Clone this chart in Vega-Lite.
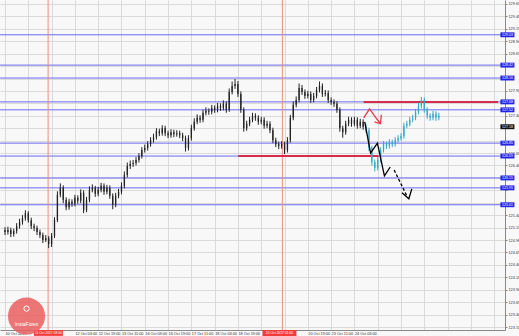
{
"$schema":"https://vega.github.io/schema/vega-lite/v6.json",
"width":505,"height":330,
"autosize":{"type":"none"},
"padding":{"left":0,"top":0,"right":14,"bottom":6},
"background":"#f8f8f8",
"config":{"view":{"stroke":null},"font":"Liberation Sans"},
"resolve":{"axis":{"x":"independent","y":"independent"}},
"layer":[
 {"data":{"values":[{"p":129.03},{"p":128.42},{"p":128.16},{"p":127.68},{"p":127.52},{"p":126.85},{"p":126.59},{"p":126.15},{"p":125.95},{"p":125.61}]},
  "mark":{"type":"rule","color":"#6a6af2","strokeWidth":1},
  "encoding":{"y":{"field":"p","type":"quantitative","scale":{"domain":[123.09,129.73],"nice":false,"zero":false},
  "axis":{"title":null,"orient":"right","values":[123.15,123.4,123.65,123.9,124.15,124.4,124.65,124.9,125.15,125.4,125.65,125.9,126.15,126.4,126.65,126.9,127.15,127.4,127.65,127.9,128.15,128.4,128.65,128.9,129.15,129.4,129.65],
   "labelExpr":"indexof([125.65,125.9,126.15,126.9,127.15,127.65,128.15,128.4], datum.value) >= 0 ? '' : format(datum.value, '.2f')",
   "labelFontSize":3.8,"labelColor":"#333","labelPadding":1,"tickSize":2,"tickColor":"#888","domainColor":"#888","labelOverlap":false,"labelFlush":false,
   "grid":true,"gridColor":"#dadada","zindex":0}}}},
 {"data":{"values":[{"i":29.6},{"i":190.5}]},
  "mark":{"type":"rule","color":"#f08a80","strokeWidth":1},
  "encoding":{"x":{"field":"i","type":"quantitative","scale":{"domain":[0,340],"nice":false,"zero":false},
  "axis":{"title":null,"orient":"bottom","values":[0,16,32,48,64,80,96,112,128,144,160,176,192,208,224,240,256,272,288,304,320,336],
   "labelExpr":"datum.value <= 240 ? ['10 Oct 2017','','','12 Oct 03:00','12 Oct 19:00','13 Oct 11:00','16 Oct 03:00','16 Oct 19:00','17 Oct 11:00','18 Oct 03:00','18 Oct 19:00','','','20 Oct 19:00','23 Oct 11:00','24 Oct 03:00'][round(datum.value/16)] : ''",
   "labelAlign":"left","labelBaseline":"top","labelPadding":1,"labelFontSize":3.8,"labelColor":"#333","tickSize":0,"labelOverlap":false,"labelFlush":false,"labelBound":false,
   "grid":true,"gridColor":"#dadada","domainColor":"#888","zindex":0}}}},
 {"data":{"values":[{"i":246.4,"i2":338.6,"p":127.68},{"i":160.2,"i2":256.5,"p":126.59}]},
  "mark":{"type":"rule","color":"#d42e4c","strokeWidth":2},
  "encoding":{"x":{"field":"i","type":"quantitative","axis":null},"x2":{"field":"i2"},"y":{"field":"p","type":"quantitative","axis":null}}},
 {"data":{"name":"bars"},
  "mark":{"type":"rule","strokeWidth":1},
  "encoding":{"x":{"field":"i","type":"quantitative","axis":null},"y":{"field":"l","type":"quantitative","axis":null},"y2":{"field":"h"},
   "color":{"field":"s","type":"nominal","scale":{"domain":["h","f"],"range":["#222222","#35a7c9"]},"legend":null}}},
 {"data":{"name":"bars"},
  "mark":{"type":"bar","size":1.3},
  "encoding":{"x":{"field":"i","type":"quantitative","axis":null},"y":{"field":"o","type":"quantitative","axis":null},"y2":{"field":"c"},
   "color":{"field":"s","type":"nominal","scale":{"domain":["h","f"],"range":["#222222","#35a7c9"]},"legend":null}}},
 {"data":{"values":[
   {"g":"a","ord":1,"i":247.1,"p":127.28},{"g":"a","ord":2,"i":251.1,"p":126.65},{"g":"a","ord":3,"i":255.8,"p":126.85},{"g":"a","ord":4,"i":260.6,"p":126.19},{"g":"a","ord":5,"i":264.6,"p":126.37},
   {"g":"b","ord":1,"i":272.7,"p":125.85},{"g":"b","ord":2,"i":277.4,"p":125.73},{"g":"b","ord":3,"i":279.4,"p":125.93}]},
  "mark":{"type":"line","color":"#000000","strokeWidth":1.3},
  "encoding":{"x":{"field":"i","type":"quantitative","axis":null},"y":{"field":"p","type":"quantitative","axis":null},"detail":{"field":"g"},"order":{"field":"ord"}}},
 {"data":{"values":[{"i":267.3,"p":126.31},{"i":276.0,"p":125.79}]},
  "mark":{"type":"line","color":"#000000","strokeWidth":1.3,"strokeDash":[3,2]},
  "encoding":{"x":{"field":"i","type":"quantitative","axis":null},"y":{"field":"p","type":"quantitative","axis":null}}},
 {"data":{"values":[
   {"g":"a","ord":1,"i":246.4,"p":127.36},{"g":"a","ord":2,"i":250.4,"p":127.54},{"g":"a","ord":3,"i":253.8,"p":127.40},{"g":"a","ord":4,"i":257.9,"p":127.24},
   {"g":"b","ord":1,"i":253.8,"p":127.28},{"g":"b","ord":2,"i":257.9,"p":127.24},{"g":"b","ord":3,"i":258.5,"p":127.42}]},
  "mark":{"type":"line","color":"#e23a48","strokeWidth":1.3},
  "encoding":{"x":{"field":"i","type":"quantitative","axis":null},"y":{"field":"p","type":"quantitative","axis":null},"detail":{"field":"g"},"order":{"field":"ord"}}},
 {"data":{"values":[{"p":129.03},{"p":128.42},{"p":128.16},{"p":127.68},{"p":127.52},{"p":126.85},{"p":126.59},{"p":126.15},{"p":125.95},{"p":125.61}]},
  "mark":{"type":"point","shape":"M-1,-0.35H1V0.35H-1Z","size":196,"filled":true,"color":"#2424e6","opacity":1},
  "encoding":{"x":{"datum":345.1,"type":"quantitative","axis":null},"y":{"field":"p","type":"quantitative","axis":null}}},
 {"data":{"values":[{"p":129.03},{"p":128.42},{"p":128.16},{"p":127.68},{"p":127.52},{"p":126.85},{"p":126.59},{"p":126.15},{"p":125.95},{"p":125.61}]},
  "mark":{"type":"text","color":"#ffffff","fontSize":3.6,"align":"center","baseline":"middle"},
  "encoding":{"x":{"datum":345.1,"type":"quantitative","axis":null},"y":{"field":"p","type":"quantitative","axis":null},"text":{"field":"p","type":"quantitative","format":".2f"}}},
 {"data":{"values":[{"p":127.18}]},
  "mark":{"type":"point","shape":"M-1,-0.35H1V0.35H-1Z","size":196,"filled":true,"color":"#111111","opacity":1},
  "encoding":{"x":{"datum":345.1,"type":"quantitative","axis":null},"y":{"field":"p","type":"quantitative","axis":null}}},
 {"data":{"values":[{"p":127.18}]},
  "mark":{"type":"text","color":"#ffffff","fontSize":3.6,"align":"center","baseline":"middle"},
  "encoding":{"x":{"datum":345.1,"type":"quantitative","axis":null},"y":{"field":"p","type":"quantitative","axis":null},"text":{"field":"p","type":"quantitative","format":".2f"}}},
 {"data":{"values":[{"i":29.8,"lab":"11 Oct 2017 08:00"}]},
  "mark":{"type":"point","shape":"M-1,-0.2H1V0.2H-1Z","size":841,"filled":true,"color":"#f23c3c","opacity":1},
  "encoding":{"x":{"field":"i","type":"quantitative","axis":null},"y":{"datum":123.03,"type":"quantitative","axis":null}}},
 {"data":{"values":[{"i":188.5,"lab":"20 Oct 2017 01:00"}]},
  "mark":{"type":"point","shape":"M-1,-0.18H1V0.18H-1Z","size":1156,"filled":true,"color":"#f23c3c","opacity":1},
  "encoding":{"x":{"field":"i","type":"quantitative","axis":null},"y":{"datum":123.03,"type":"quantitative","axis":null}}},
 {"data":{"values":[{"i":29.8,"lab":"11 Oct 2017 08:00"},{"i":188.5,"lab":"20 Oct 2017 01:00"}]},
  "mark":{"type":"text","color":"#ffffff","fontSize":3.3,"align":"center","baseline":"middle"},
  "encoding":{"x":{"field":"i","type":"quantitative","axis":null},"y":{"datum":123.03,"type":"quantitative","axis":null},"text":{"field":"lab"}}},
 {"data":{"values":[{"i":14.8,"p":123.37}]},
  "mark":{"type":"point","shape":"circle","filled":true,"size":1385,"color":"#ea5f5f","opacity":0.85},
  "encoding":{"x":{"field":"i","type":"quantitative","axis":null},"y":{"field":"p","type":"quantitative","axis":null}}},
 {"data":{"values":[{"i":14.8,"p":123.52}]},
  "mark":{"type":"point","shape":"circle","filled":false,"size":28,"color":"#ffffff","strokeWidth":1,"opacity":1},
  "encoding":{"x":{"field":"i","type":"quantitative","axis":null},"y":{"field":"p","type":"quantitative","axis":null}}},
 {"data":{"values":[{"i":14.8,"p":123.22,"lab":"InstaForex"}]},
  "mark":{"type":"text","color":"#ffffff","fontSize":5,"align":"center","baseline":"middle"},
  "encoding":{"x":{"field":"i","type":"quantitative","axis":null},"y":{"field":"p","type":"quantitative","axis":null},"text":{"field":"lab"}}}
],
"datasets":{"bars":[
{"i":0,"o":125.10,"h":125.16,"l":125.00,"c":125.06,"s":"h"},
{"i":2,"o":125.06,"h":125.17,"l":125.01,"c":125.10,"s":"h"},
{"i":4,"o":125.10,"h":125.15,"l":124.96,"c":125.02,"s":"h"},
{"i":6,"o":125.02,"h":125.13,"l":124.97,"c":125.08,"s":"h"},
{"i":8,"o":125.08,"h":125.24,"l":125.03,"c":125.18,"s":"h"},
{"i":10,"o":125.18,"h":125.33,"l":125.13,"c":125.26,"s":"h"},
{"i":12,"o":125.26,"h":125.40,"l":125.21,"c":125.34,"s":"h"},
{"i":14,"o":125.34,"h":125.50,"l":125.29,"c":125.44,"s":"h"},
{"i":16,"o":125.44,"h":125.48,"l":125.25,"c":125.30,"s":"h"},
{"i":18,"o":125.30,"h":125.35,"l":125.12,"c":125.18,"s":"h"},
{"i":20,"o":125.18,"h":125.23,"l":125.08,"c":125.14,"s":"h"},
{"i":22,"o":125.14,"h":125.19,"l":125.00,"c":125.06,"s":"h"},
{"i":24,"o":125.06,"h":125.11,"l":124.94,"c":125.00,"s":"h"},
{"i":26,"o":125.00,"h":125.05,"l":124.84,"c":124.90,"s":"h"},
{"i":28,"o":124.90,"h":125.00,"l":124.86,"c":124.94,"s":"h"},
{"i":30,"o":124.94,"h":124.98,"l":124.74,"c":124.82,"s":"h"},
{"i":32,"o":124.82,"h":125.04,"l":124.76,"c":124.98,"s":"h"},
{"i":34,"o":124.98,"h":125.36,"l":124.94,"c":125.30,"s":"h"},
{"i":36,"o":125.30,"h":125.88,"l":125.26,"c":125.81,"s":"h"},
{"i":38,"o":125.81,"h":126.04,"l":125.76,"c":125.95,"s":"h"},
{"i":40,"o":125.95,"h":126.00,"l":125.64,"c":125.71,"s":"h"},
{"i":42,"o":125.71,"h":125.76,"l":125.50,"c":125.56,"s":"h"},
{"i":44,"o":125.56,"h":125.73,"l":125.51,"c":125.67,"s":"h"},
{"i":46,"o":125.67,"h":125.72,"l":125.57,"c":125.63,"s":"h"},
{"i":48,"o":125.63,"h":125.81,"l":125.58,"c":125.75,"s":"h"},
{"i":50,"o":125.75,"h":125.80,"l":125.63,"c":125.69,"s":"h"},
{"i":52,"o":125.69,"h":125.92,"l":125.64,"c":125.85,"s":"h"},
{"i":54,"o":125.85,"h":125.90,"l":125.44,"c":125.50,"s":"h"},
{"i":56,"o":125.50,"h":125.77,"l":125.46,"c":125.71,"s":"h"},
{"i":58,"o":125.71,"h":125.98,"l":125.66,"c":125.91,"s":"h"},
{"i":60,"o":125.91,"h":126.02,"l":125.86,"c":125.95,"s":"h"},
{"i":62,"o":125.95,"h":125.99,"l":125.77,"c":125.83,"s":"h"},
{"i":64,"o":125.83,"h":125.97,"l":125.78,"c":125.91,"s":"h"},
{"i":66,"o":125.91,"h":126.05,"l":125.86,"c":125.99,"s":"h"},
{"i":68,"o":125.99,"h":126.04,"l":125.81,"c":125.87,"s":"h"},
{"i":70,"o":125.87,"h":126.01,"l":125.82,"c":125.95,"s":"h"},
{"i":72,"o":125.95,"h":126.00,"l":125.73,"c":125.79,"s":"h"},
{"i":74,"o":125.79,"h":125.84,"l":125.52,"c":125.61,"s":"h"},
{"i":76,"o":125.61,"h":125.85,"l":125.56,"c":125.79,"s":"h"},
{"i":78,"o":125.79,"h":125.93,"l":125.74,"c":125.87,"s":"h"},
{"i":80,"o":125.87,"h":126.06,"l":125.82,"c":125.99,"s":"h"},
{"i":82,"o":125.99,"h":126.28,"l":125.94,"c":126.21,"s":"h"},
{"i":84,"o":126.21,"h":126.46,"l":126.16,"c":126.39,"s":"h"},
{"i":86,"o":126.39,"h":126.50,"l":126.33,"c":126.43,"s":"h"},
{"i":88,"o":126.43,"h":126.51,"l":126.37,"c":126.45,"s":"h"},
{"i":90,"o":126.45,"h":126.57,"l":126.40,"c":126.51,"s":"h"},
{"i":92,"o":126.51,"h":126.65,"l":126.46,"c":126.59,"s":"h"},
{"i":94,"o":126.59,"h":126.77,"l":126.54,"c":126.71,"s":"h"},
{"i":96,"o":126.71,"h":126.82,"l":126.66,"c":126.75,"s":"h"},
{"i":98,"o":126.75,"h":126.89,"l":126.70,"c":126.83,"s":"h"},
{"i":100,"o":126.83,"h":126.97,"l":126.78,"c":126.91,"s":"h"},
{"i":102,"o":126.91,"h":127.04,"l":126.86,"c":126.97,"s":"h"},
{"i":104,"o":126.97,"h":127.15,"l":126.92,"c":127.09,"s":"h"},
{"i":106,"o":127.09,"h":127.14,"l":126.99,"c":127.05,"s":"h"},
{"i":108,"o":127.05,"h":127.21,"l":127.00,"c":127.15,"s":"h"},
{"i":110,"o":127.15,"h":127.20,"l":126.99,"c":127.05,"s":"h"},
{"i":112,"o":127.05,"h":127.10,"l":126.95,"c":127.01,"s":"h"},
{"i":114,"o":127.01,"h":127.13,"l":126.96,"c":127.07,"s":"h"},
{"i":116,"o":127.07,"h":127.12,"l":126.97,"c":127.03,"s":"h"},
{"i":118,"o":127.03,"h":127.11,"l":126.98,"c":127.05,"s":"h"},
{"i":120,"o":127.05,"h":127.10,"l":126.95,"c":127.01,"s":"h"},
{"i":122,"o":127.01,"h":127.06,"l":126.89,"c":126.95,"s":"h"},
{"i":124,"o":126.95,"h":127.00,"l":126.68,"c":126.75,"s":"h"},
{"i":126,"o":126.75,"h":127.01,"l":126.70,"c":126.95,"s":"h"},
{"i":128,"o":126.95,"h":127.22,"l":126.90,"c":127.15,"s":"h"},
{"i":130,"o":127.15,"h":127.35,"l":127.10,"c":127.28,"s":"h"},
{"i":132,"o":127.28,"h":127.43,"l":127.23,"c":127.36,"s":"h"},
{"i":134,"o":127.36,"h":127.41,"l":127.26,"c":127.32,"s":"h"},
{"i":136,"o":127.32,"h":127.52,"l":127.27,"c":127.46,"s":"h"},
{"i":138,"o":127.46,"h":127.57,"l":127.41,"c":127.50,"s":"h"},
{"i":140,"o":127.50,"h":127.55,"l":127.42,"c":127.48,"s":"h"},
{"i":142,"o":127.48,"h":127.62,"l":127.43,"c":127.56,"s":"h"},
{"i":144,"o":127.56,"h":127.61,"l":127.46,"c":127.52,"s":"h"},
{"i":146,"o":127.52,"h":127.66,"l":127.47,"c":127.60,"s":"h"},
{"i":148,"o":127.60,"h":127.65,"l":127.50,"c":127.56,"s":"h"},
{"i":150,"o":127.56,"h":127.71,"l":127.51,"c":127.64,"s":"h"},
{"i":152,"o":127.64,"h":127.69,"l":127.46,"c":127.52,"s":"h"},
{"i":154,"o":127.52,"h":127.95,"l":127.48,"c":127.88,"s":"h"},
{"i":156,"o":127.88,"h":128.09,"l":127.83,"c":128.00,"s":"h"},
{"i":158,"o":128.00,"h":128.14,"l":127.94,"c":128.04,"s":"h"},
{"i":160,"o":128.04,"h":128.10,"l":127.78,"c":127.84,"s":"h"},
{"i":162,"o":127.84,"h":127.89,"l":127.46,"c":127.52,"s":"h"},
{"i":164,"o":127.52,"h":127.57,"l":127.08,"c":127.15,"s":"h"},
{"i":166,"o":127.15,"h":127.30,"l":127.10,"c":127.24,"s":"h"},
{"i":168,"o":127.24,"h":127.38,"l":127.19,"c":127.32,"s":"h"},
{"i":170,"o":127.32,"h":127.46,"l":127.27,"c":127.40,"s":"h"},
{"i":172,"o":127.40,"h":127.45,"l":127.30,"c":127.36,"s":"h"},
{"i":174,"o":127.36,"h":127.41,"l":127.22,"c":127.28,"s":"h"},
{"i":176,"o":127.28,"h":127.38,"l":127.23,"c":127.32,"s":"h"},
{"i":178,"o":127.32,"h":127.37,"l":127.14,"c":127.20,"s":"h"},
{"i":180,"o":127.20,"h":127.30,"l":127.15,"c":127.24,"s":"h"},
{"i":182,"o":127.24,"h":127.29,"l":127.05,"c":127.11,"s":"h"},
{"i":184,"o":127.11,"h":127.16,"l":126.85,"c":126.91,"s":"h"},
{"i":186,"o":126.91,"h":126.96,"l":126.77,"c":126.83,"s":"h"},
{"i":188,"o":126.83,"h":126.88,"l":126.73,"c":126.79,"s":"h"},
{"i":190,"o":126.79,"h":126.89,"l":126.74,"c":126.83,"s":"h"},
{"i":192,"o":126.83,"h":126.88,"l":126.63,"c":126.71,"s":"h"},
{"i":194,"o":126.71,"h":126.97,"l":126.66,"c":126.91,"s":"h"},
{"i":196,"o":126.91,"h":127.42,"l":126.86,"c":127.36,"s":"h"},
{"i":198,"o":127.36,"h":127.69,"l":127.31,"c":127.62,"s":"h"},
{"i":200,"o":127.62,"h":127.79,"l":127.57,"c":127.72,"s":"h"},
{"i":202,"o":127.72,"h":128.05,"l":127.67,"c":127.96,"s":"h"},
{"i":204,"o":127.96,"h":128.02,"l":127.82,"c":127.88,"s":"h"},
{"i":206,"o":127.88,"h":127.93,"l":127.74,"c":127.80,"s":"h"},
{"i":208,"o":127.80,"h":127.90,"l":127.75,"c":127.84,"s":"h"},
{"i":210,"o":127.84,"h":127.89,"l":127.66,"c":127.72,"s":"h"},
{"i":212,"o":127.72,"h":127.86,"l":127.67,"c":127.80,"s":"h"},
{"i":214,"o":127.80,"h":127.98,"l":127.75,"c":127.92,"s":"h"},
{"i":216,"o":127.92,"h":128.09,"l":127.87,"c":128.00,"s":"h"},
{"i":218,"o":128.00,"h":128.05,"l":127.78,"c":127.84,"s":"h"},
{"i":220,"o":127.84,"h":127.92,"l":127.79,"c":127.86,"s":"h"},
{"i":222,"o":127.86,"h":127.91,"l":127.66,"c":127.72,"s":"h"},
{"i":224,"o":127.72,"h":127.77,"l":127.62,"c":127.68,"s":"h"},
{"i":226,"o":127.68,"h":127.73,"l":127.58,"c":127.64,"s":"h"},
{"i":228,"o":127.64,"h":127.69,"l":127.46,"c":127.52,"s":"h"},
{"i":230,"o":127.52,"h":127.57,"l":127.08,"c":127.15,"s":"h"},
{"i":232,"o":127.15,"h":127.20,"l":126.96,"c":127.07,"s":"h"},
{"i":234,"o":127.07,"h":127.30,"l":127.02,"c":127.24,"s":"h"},
{"i":236,"o":127.24,"h":127.38,"l":127.19,"c":127.32,"s":"h"},
{"i":238,"o":127.32,"h":127.37,"l":127.18,"c":127.24,"s":"h"},
{"i":240,"o":127.24,"h":127.38,"l":127.19,"c":127.32,"s":"h"},
{"i":242,"o":127.32,"h":127.37,"l":127.14,"c":127.20,"s":"h"},
{"i":244,"o":127.20,"h":127.34,"l":127.15,"c":127.28,"s":"h"},
{"i":246,"o":127.28,"h":127.33,"l":127.12,"c":127.18,"s":"h"},
{"i":248,"o":127.18,"h":127.24,"l":127.05,"c":127.11,"s":"f"},
{"i":250,"o":127.11,"h":127.16,"l":126.69,"c":126.75,"s":"f"},
{"i":252,"o":126.75,"h":126.80,"l":126.40,"c":126.47,"s":"f"},
{"i":254,"o":126.47,"h":126.52,"l":126.28,"c":126.35,"s":"f"},
{"i":256,"o":126.35,"h":126.57,"l":126.30,"c":126.51,"s":"f"},
{"i":258,"o":126.51,"h":126.77,"l":126.46,"c":126.71,"s":"f"},
{"i":260,"o":126.71,"h":126.89,"l":126.66,"c":126.83,"s":"f"},
{"i":262,"o":126.83,"h":126.88,"l":126.73,"c":126.79,"s":"f"},
{"i":264,"o":126.79,"h":126.93,"l":126.74,"c":126.87,"s":"f"},
{"i":266,"o":126.87,"h":126.92,"l":126.77,"c":126.83,"s":"f"},
{"i":268,"o":126.83,"h":126.97,"l":126.78,"c":126.91,"s":"f"},
{"i":270,"o":126.91,"h":127.01,"l":126.86,"c":126.95,"s":"f"},
{"i":272,"o":126.95,"h":127.05,"l":126.90,"c":126.99,"s":"f"},
{"i":274,"o":126.99,"h":127.26,"l":126.94,"c":127.20,"s":"f"},
{"i":276,"o":127.20,"h":127.30,"l":127.15,"c":127.24,"s":"f"},
{"i":278,"o":127.24,"h":127.38,"l":127.19,"c":127.32,"s":"f"},
{"i":280,"o":127.32,"h":127.42,"l":127.27,"c":127.36,"s":"f"},
{"i":282,"o":127.36,"h":127.54,"l":127.31,"c":127.48,"s":"f"},
{"i":284,"o":127.48,"h":127.66,"l":127.43,"c":127.60,"s":"f"},
{"i":286,"o":127.60,"h":127.78,"l":127.55,"c":127.72,"s":"f"},
{"i":288,"o":127.72,"h":127.77,"l":127.46,"c":127.52,"s":"f"},
{"i":290,"o":127.52,"h":127.57,"l":127.34,"c":127.40,"s":"f"},
{"i":292,"o":127.40,"h":127.45,"l":127.30,"c":127.36,"s":"f"},
{"i":294,"o":127.36,"h":127.50,"l":127.31,"c":127.44,"s":"f"},
{"i":296,"o":127.44,"h":127.49,"l":127.30,"c":127.36,"s":"f"},
{"i":298,"o":127.36,"h":127.46,"l":127.31,"c":127.40,"s":"f"}
]}
}
